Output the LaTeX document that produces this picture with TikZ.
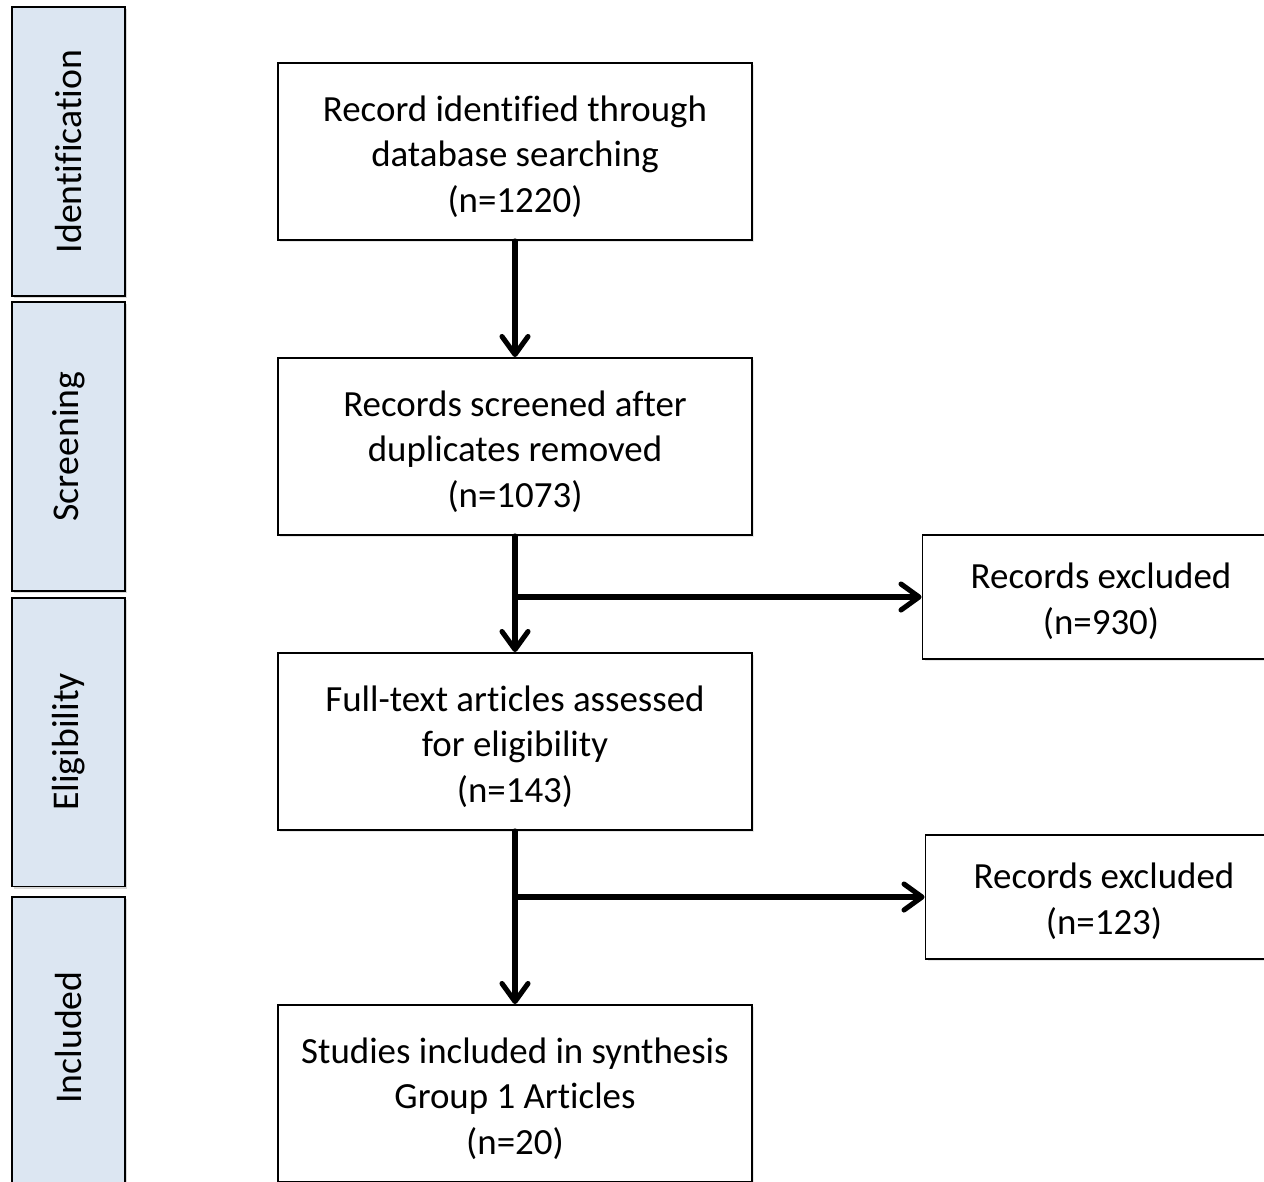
\documentclass[tikz,border=0pt]{standalone}
\usepackage{fontspec}
\setmainfont{Carlito}[Ligatures={NoCommon}]
\usetikzlibrary{arrows.meta,shadows}
\definecolor{barfill}{HTML}{DCE6F2}
\newcommand{\lowtext}[3]{\raisebox{-#1}[\height][\depth]{\parbox{#2}{\centering #3}}}
\tikzset{
  stagebar/.style={draw=black, line width=1.1pt, fill=barfill, minimum width=2.26cm, minimum height=5.78cm, inner sep=0pt,
    drop shadow={shadow xshift=1.2pt, shadow yshift=-1.2pt, opacity=0.3}},
  stagetext/.style={font=\fontsize{21.5}{26}\selectfont, rotate=90},
  flowbox/.style={draw=black, line width=1.1pt, fill=white, minimum width=9.48cm, minimum height=3.54cm, align=center, inner sep=2pt,
    font=\fontsize{21}{26}\selectfont, drop shadow={shadow xshift=1.2pt, shadow yshift=-1.2pt, opacity=0.2}},
  exbox/.style={flowbox, minimum width=7.1cm, minimum height=2.48cm},
  conn/.style={line width=2.9pt, line cap=round, line join=round},
  arr/.style={conn, -{Straight Barb[length=0.36cm, width=0.52cm, line width=2.9pt, round]}}
}
\begin{document}
\begin{tikzpicture}[x=0.02cm, y=-0.02cm]
\useasboundingbox (0,0) rectangle (1264,1181);
\clip (0,0) rectangle (1264,1181);
% stage bars
\node[stagebar] (s1) at (68.5,151.5) {};
\node[stagebar] (s2) at (68.5,446.5) {};
\node[stagebar] (s3) at (68.5,742) {};
\node[stagebar] (s4) at (68.5,1041.5) {};
\node[stagetext] (t1) at (s1.center) {Identification};
\node[stagetext] (t2) at (s2.center) {Screening};
\node[stagetext] (t3) at (s3.center) {Eligibility};
\node[stagetext] (t4) at (68.5,1037.5) {Included};
% flow boxes
\node[flowbox] (b1) at (515,151.5) {\lowtext{2.8pt}{9cm}{Record identified through\\database searching\\(n=1220)}};
\node[flowbox] (b2) at (515,446.5) {\lowtext{2.8pt}{9cm}{Records screened after\\duplicates removed\\(n=1073)}};
\node[flowbox] (b3) at (515,741.5) {\lowtext{2.8pt}{9cm}{Full-text articles assessed\\for eligibility\\(n=143)}};
\node[flowbox] (b4) at (515,1093.5) {\lowtext{2.8pt}{9cm}{Studies included in synthesis\\Group 1 Articles\\(n=20)}};
\node[exbox] (e1) at (1101,597) {\lowtext{2.5pt}{7cm}{Records excluded\\(n=930)}};
\node[exbox] (e2) at (1104,897) {\lowtext{2.5pt}{7cm}{Records excluded\\(n=123)}};
% connectors
\coordinate (j1) at (b2.south |- e1.west);
\coordinate (j2) at (b3.south |- e2.west);
\draw[arr] (b1.south) -- (b2.north);
\draw[arr] (b2.south) -- (b3.north);
\draw[arr] (j1) -- (e1.west);
\draw[arr] (b3.south) -- (b4.north);
\draw[arr] (j2) -- (e2.west);
\end{tikzpicture}
\end{document}
